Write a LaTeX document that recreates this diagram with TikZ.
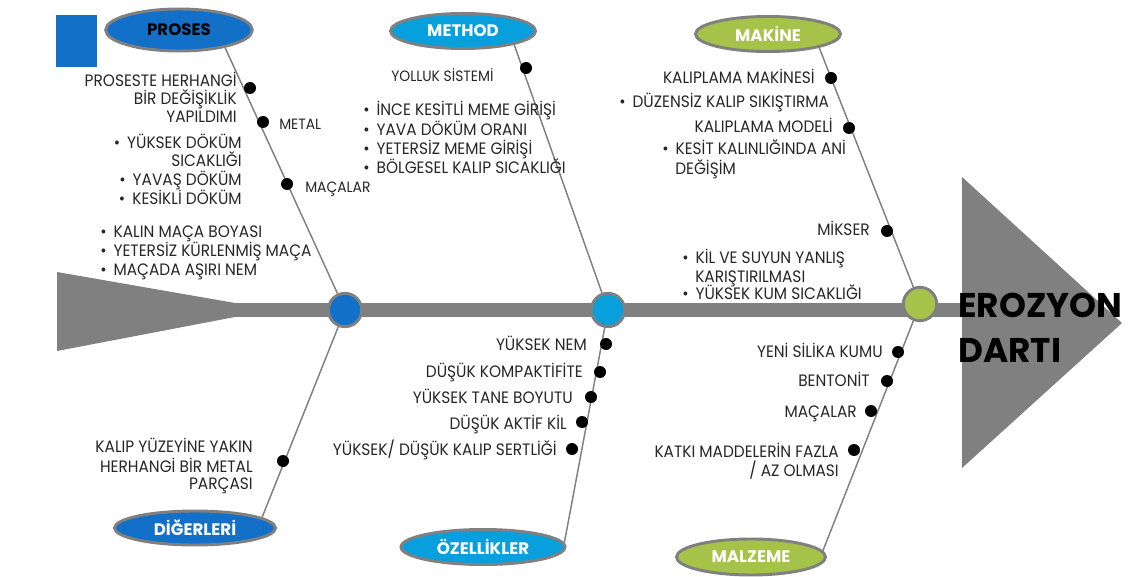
\documentclass[tikz,border=0pt]{standalone}
\usepackage{fontspec}
\setmainfont{Poppins}
\newfontfamily\lblfont[FakeStretch=0.93]{Poppins}
\usetikzlibrary{shapes.geometric}
\definecolor{blueC}{RGB}{18,112,200}
\definecolor{cyanC}{RGB}{8,160,220}
\definecolor{greenC}{RGB}{165,194,73}
\definecolor{grayC}{RGB}{128,128,128}
\definecolor{txtC}{RGB}{38,38,38}
\newcommand\bul{\makebox[10pt][l]{•}}
\begin{document}
\begin{tikzpicture}[x=0.75pt,y=-0.75pt,
 txt/.style={font=\lblfont\fontsize{12.4}{14}\selectfont, inner sep=0pt, text=txtC},
 stxt/.style={font=\lblfont\fontsize{11.2}{12}\selectfont, inner sep=0pt, text=txtC},
 cat/.style={ellipse, draw=grayC, line width=2.2pt, inner sep=0pt, font=\bfseries\fontsize{12.5}{14}\selectfont},
 hub/.style={circle, draw=grayC, line width=2.2pt, minimum size=25pt, inner sep=0pt},
 bone/.style={draw=grayC, line width=1.1pt},
 dotn/.style={circle, fill=black, minimum size=9pt, inner sep=0pt},
 rt/.style={txt, anchor=base east},
 lt/.style={txt, anchor=base west}]
\useasboundingbox (0,0) rectangle (1131,577);
% backbone
\fill[blueC] (56,15) rectangle (97,67);
\fill[grayC] (57,272) -- (235,303) -- (235,317) -- (57,351) -- cycle;
\fill[grayC] (235,303) rectangle (962,317);
\fill[grayC] (962,177) -- (1122,323) -- (962,468) -- cycle;
% hubs
\node[hub, fill=blueC] (c1) at (345,310) {};
\node[hub, fill=cyanC] (c2) at (608,310) {};
\node[hub, fill=greenC] (c3) at (920,304) {};
% categories
\node[cat, fill=blueC, text=black, minimum width=110pt, minimum height=31.5pt] (proses) at (179,30) {PROSES};
\node[cat, fill=cyanC, text=white, minimum width=108.8pt, minimum height=26.3pt] (method) at (463,31) {METHOD};
\node[cat, fill=greenC, text=white, minimum width=108.8pt, minimum height=26.3pt] (makine) at (768,34) {MAKİNE};
\node[cat, fill=blueC, text=white, minimum width=120.8pt, minimum height=25.5pt] (diger) at (195,528) {DİĞERLERİ};
\node[cat, fill=cyanC, text=white, minimum width=123pt, minimum height=26.3pt] (ozel) at (483,547) {ÖZELLİKLER};
\node[cat, fill=greenC, text=white, minimum width=111.8pt, minimum height=27pt] (malz) at (751,557) {MALZEME};
% bones
\draw[bone] (proses.-21) -- (c1);
\draw[bone] (c1) -- (diger.9);
\draw[bone] (method.-15) -- (c2);
\draw[bone] (c2) -- (ozel.3.5);
\draw[bone] (makine.-15) -- (c3);
\draw[bone] (c3) -- (malz.5);
% dots
\node[dotn] (dp1) at (250,88) {};
\node[dotn] (dp2) at (263,122) {};
\node[dotn] (dp3) at (287,184) {};
\node[dotn] (dd1) at (283,461) {};
\node[dotn] (dm1) at (526,68) {};
\node[dotn] (do1) at (606,344) {};
\node[dotn] (do2) at (600,372) {};
\node[dotn] (do3) at (591,397) {};
\node[dotn] (do4) at (582,422) {};
\node[dotn] (do5) at (572,449) {};
\node[dotn] (dk1) at (831,78) {};
\node[dotn] (dk2) at (849,128) {};
\node[dotn] (dk3) at (887,231) {};
\node[dotn] (dz1) at (898,352) {};
\node[dotn] (dz2) at (887,381) {};
\node[dotn] (dz3) at (871,411) {};
\node[dotn] (dz4) at (854,450) {};
% proses texts
\node[rt] (p1) at (237,87) {PROSESTE HERHANGİ};
\node[rt] (p2) at (237,105) {BİR DEĞİŞİKLİK};
\node[rt] (p3) at (237,123) {YAPILDIMI};
\node[stxt, anchor=base west] (p4) at (279,130) {METAL};
\node[rt] (p5) at (242,149) {\bul YÜKSEK DÖKÜM};
\node[rt] (p6) at (242,167) {SICAKLIĞI};
\node[rt] (p7) at (242,186) {\bul YAVAŞ DÖKÜM};
\node[rt] (p8) at (242,205) {\bul KESİKLİ DÖKÜM};
\node[stxt, anchor=base west] (p9) at (305,193) {MAÇALAR};
\node[lt] (p10) at (100,238) {\bul KALIN MAÇA BOYASI};
\node[lt] (p11) at (100,257) {\bul YETERSİZ KÜRLENMİŞ MAÇA};
\node[lt] (p12) at (100,276) {\bul MAÇADA AŞIRI NEM};
% method texts
\node[stxt, anchor=base west] (m1) at (391,82) {YOLLUK SİSTEMİ};
\node[lt] (m2) at (363,116) {\bul İNCE KESİTLİ MEME GİRİŞİ};
\node[lt] (m3) at (363,136) {\bul YAVA DÖKÜM ORANI};
\node[lt] (m4) at (363,155) {\bul YETERSİZ MEME GİRİŞİ};
\node[lt] (m5) at (363,174) {\bul BÖLGESEL KALIP SICAKLIĞI};
% makine texts
\node[rt] (k1) at (815,84) {KALIPLAMA MAKİNESİ};
\node[lt] (k2) at (619,108) {\bul DÜZENSİZ KALIP SIKIŞTIRMA};
\node[rt] (k3) at (833,133) {KALIPLAMA MODELİ};
\node[lt] (k4) at (662,155) {\bul KESİT KALINLIĞINDA ANİ};
\node[lt] (k5) at (675,175) {DEĞİŞİM};
\node[rt] (k6) at (870,236) {MİKSER};
\node[lt] (k7) at (682,263) {\bul KİL VE SUYUN YANLIŞ};
\node[lt] (k8) at (695,282) {KARIŞTIRILMASI};
\node[lt] (k9) at (682,300) {\bul YÜKSEK KUM SICAKLIĞI};
% ozellikler texts
\node[rt] (o1) at (587,350) {YÜKSEK NEM};
\node[rt] (o2) at (583,377) {DÜŞÜK KOMPAKTİFİTE};
\node[rt] (o3) at (573,403) {YÜKSEK TANE BOYUTU};
\node[rt] (o4) at (567,429) {DÜŞÜK AKTİF KİL};
\node[rt] (o5) at (557,455) {YÜKSEK/ DÜŞÜK KALIP SERTLİĞİ};
% malzeme texts
\node[rt] (z1) at (883,357) {YENİ SİLİKA KUMU};
\node[rt] (z2) at (870,386) {BENTONİT};
\node[rt] (z3) at (857,417) {MAÇALAR};
\node[rt] (z4) at (839,457) {KATKI MADDELERİN FAZLA};
\node[rt] (z5) at (839,476) {/ AZ OLMASI};
% diger texts
\node[rt] (d1) at (253,452) {KALIP YÜZEYİNE YAKIN};
\node[rt] (d2) at (253,472) {HERHANGİ BİR METAL};
\node[rt] (d3) at (253,489) {PARÇASI};
% head text
\node[font=\bfseries\fontsize{25.7}{28}\selectfont, inner sep=0pt, anchor=base west] (h1) at (958,317) {EROZYON};
\node[font=\bfseries\fontsize{25.7}{28}\selectfont, inner sep=0pt, anchor=base west] (h2) at (958,362) {DARTI};
\end{tikzpicture}
\end{document}
